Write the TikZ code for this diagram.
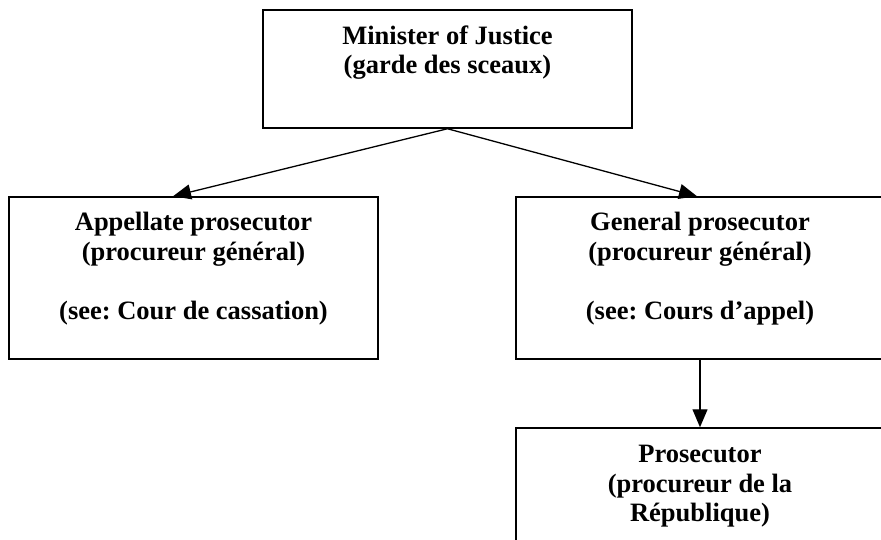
\documentclass[tikz,border=0pt]{standalone}
\usepackage{fontspec}
\setmainfont{Liberation Serif}
\usetikzlibrary{arrows.meta,positioning}
\frenchspacing

\tikzset{
  box/.style={draw, line width=1.5pt, minimum width=369pt, inner sep=0pt},
  boxtext/.style={anchor=north, align=center, inner sep=0pt, font=\fontsize{26.5}{29.5}\selectfont\bfseries},
  link/.style={->, line width=1.3pt}
}

\begin{document}
\begin{tikzpicture}[x=1pt, y=-1pt, >={Triangle[length=18pt,width=15pt]}]
        \useasboundingbox (0,0) rectangle (881,540);
        \clip (0,0) rectangle (881,540);

        \node [box, minimum height=118pt] (minister) at (447.5,69) {};
        \node [boxtext] (ministertext) at ([yshift=-16pt]minister.north) {Minister of Justice\\(garde des sceaux)};

        \node [box, minimum height=162pt] (appellate) at (193.5,278) {};
        \node [boxtext] (appellatetext) at ([yshift=-16pt]appellate.north) {Appellate prosecutor\\(procureur général)\\[29.5pt](see: Cour de cassation)};

        \node [box, minimum height=162pt, minimum width=368pt] (general) at (700,278) {};
        \node [boxtext] (generaltext) at ([yshift=-16pt]general.north) {General prosecutor\\(procureur général)\\[29.5pt](see: Cours d’appel)};

        \node [box, minimum height=142pt, minimum width=368pt] (prosecutor) at (700,499) {};
        \node [boxtext] (prosecutortext) at ([yshift=-18pt]prosecutor.north) {Prosecutor\\(procureur de la\\République)};

        \draw [link] (minister.south) -- ([xshift=-20.5pt]appellate.north);
        \draw [link] (minister.south) -- ([xshift=-3pt]general.north);
        \draw [link] (general.south) -- (prosecutor.north);
\end{tikzpicture}
\end{document}
